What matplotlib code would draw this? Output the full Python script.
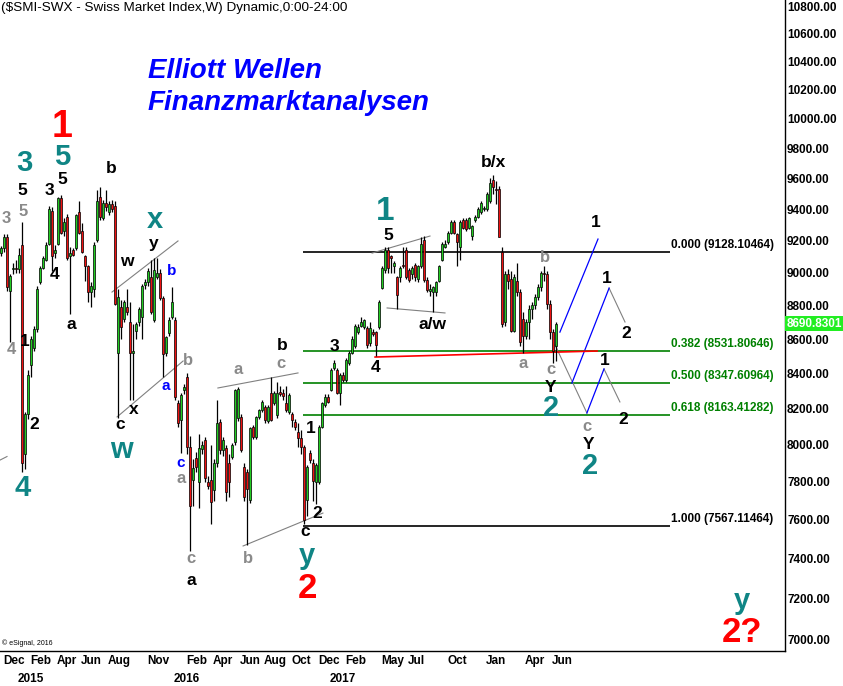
import numpy as np
import pandas as pd
import matplotlib
matplotlib.use('Agg')
import matplotlib.pyplot as plt
from matplotlib.ticker import NullLocator
import matplotlib.transforms as mtrans

plt.rcParams['font.family'] = ['Liberation Sans', 'DejaVu Sans']

# weekly SMI candles, Nov 2014 - Jun 2018
opens = [9120, 9150, 9220, 8890, 9020, 9030, 9020, 9170, 7950, 8170,
         8450, 8550, 8660, 8940, 9030, 9080, 9180, 9390, 9120, 9180,
         9470, 9260, 9350, 9100, 9140, 9150, 9380, 9260, 9100, 9040,
         8880, 8900, 9200, 9480, 9340, 9440, 9380, 9430, 9420, 8520,
         8790, 8720, 8790, 8700, 8520, 8650, 8700, 8730, 8925, 8940,
         8970, 8715, 8975, 8998, 8845, 8520, 8635, 8730, 8713, 8232,
         8137, 8305, 8380, 7990, 7810, 7930, 7800, 7975, 8026, 7800,
         7809, 7756, 7900, 8125, 7972, 7980, 7900, 7934, 8015, 8150,
         8153, 7880, 7850, 7704, 8098, 8043, 8153, 8193, 8210, 8130,
         8290, 8232, 8165, 8295, 8290, 8232, 8180, 8170, 8125, 8070,
         8037, 7990, 7704, 7955, 7900, 7800, 7800, 8098, 8221, 8266,
         8305, 8430, 8420, 8290, 8390, 8362, 8460, 8520, 8560, 8640,
         8680, 8670, 8665, 8575, 8640, 8640, 8670, 8906, 9016, 9140,
         9100, 9040, 8970, 8970, 9050, 9140, 9016, 8990, 9050, 8960,
         9040, 9200, 8955, 8890, 8880, 8880, 8950, 9080, 9160, 9190,
         9250, 9318, 9240, 9160, 9330, 9330, 9280, 9230, 9330, 9350,
         9380, 9400, 9400, 9450, 9590, 9530, 9530, 9130, 8700, 8990,
         8960, 8650, 8950, 8880, 8720, 8620, 8700, 8780, 8800, 8850,
         8910, 9000, 8990, 8810, 8640, 8560]
highs = [9165, 9240, 9240, 8990, 9060, 9080, 9150, 9320, 8180, 8420,
         8620, 8680, 8920, 9040, 9100, 9190, 9420, 9410, 9170, 9480,
         9490, 9340, 9370, 9160, 9150, 9370, 9450, 9310, 9110, 9050,
         8940, 9190, 9520, 9540, 9460, 9520, 9450, 9460, 9450, 8900,
         8830, 8830, 8900, 8820, 8690, 8700, 8790, 8930, 8960, 9030,
         9080, 9090, 9090, 9020, 8860, 8620, 8730, 8910, 8730, 8250,
         8290, 8340, 8400, 8050, 7920, 7960, 8060, 8020, 8040, 7830,
         8000, 7920, 8250, 8140, 8040, 8000, 7950, 8010, 8310, 8320,
         8170, 7900, 7870, 8100, 8110, 8160, 8200, 8250, 8220, 8220,
         8380, 8300, 8350, 8330, 8310, 8330, 8290, 8180, 8140, 8120,
         8080, 8000, 7890, 7970, 7920, 7900, 8110, 8240, 8280, 8280,
         8430, 8480, 8430, 8400, 8410, 8490, 8530, 8620, 8690, 8690,
         8730, 8720, 8680, 8700, 8660, 8650, 8830, 9040, 9160, 9160,
         9110, 9070, 8980, 9040, 9160, 9160, 9030, 9040, 9060, 9050,
         9220, 9230, 8970, 8930, 8920, 8950, 9050, 9190, 9200, 9260,
         9330, 9330, 9250, 9330, 9340, 9340, 9350, 9300, 9360, 9410,
         9450, 9420, 9510, 9600, 9620, 9580, 9550, 9160, 9010, 9020,
         9010, 8990, 9060, 8900, 8760, 8720, 8800, 8820, 8870, 8930,
         9010, 9040, 9010, 8830, 8660, 8700]
lows = [9100, 9130, 8890, 8580, 8990, 9000, 9000, 7850, 7870, 8140,
        8380, 8530, 8640, 8930, 9020, 9070, 9170, 9010, 9090, 9170,
        9240, 9230, 9080, 8750, 9100, 9140, 9240, 9120, 8950, 8820,
        8790, 8850, 9190, 9330, 9330, 9390, 9360, 9380, 8800, 8150,
        8600, 8700, 8740, 8250, 8250, 8600, 8680, 8600, 8900, 8920,
        8750, 8700, 8960, 8830, 8380, 8500, 8620, 8720, 8250, 8100,
        7955, 8280, 7950, 7440, 7670, 7850, 7660, 7950, 7800, 7760,
        7580, 7700, 7880, 7950, 7940, 7700, 7720, 7920, 8000, 8130,
        7960, 7700, 7470, 7690, 8030, 8030, 8140, 8180, 8120, 8120,
        8130, 8220, 8150, 8270, 8250, 8180, 8170, 8100, 8080, 7990,
        7950, 7580, 7620, 7900, 7700, 7680, 7790, 8090, 8210, 8230,
        8300, 8420, 8280, 8220, 8350, 8350, 8450, 8510, 8550, 8630,
        8670, 8660, 8550, 8560, 8620, 8500, 8660, 8900, 9000, 9000,
        9000, 9000, 8780, 8940, 9030, 8960, 8940, 8960, 8950, 8940,
        9030, 8940, 8880, 8860, 8760, 8860, 8940, 9070, 9150, 9180,
        9240, 9240, 9040, 9080, 9270, 9260, 9270, 9200, 9320, 9340,
        9370, 9390, 9390, 9440, 9500, 9430, 9220, 8670, 8680, 8900,
        8640, 8640, 8860, 8560, 8520, 8600, 8600, 8720, 8780, 8830,
        8890, 8950, 8780, 8600, 8460, 8470]
closes = [9150, 9220, 8910, 8980, 9030, 9020, 9110, 7900, 8170, 8390,
          8600, 8660, 8900, 9030, 9090, 9170, 9400, 9100, 9140, 9470,
          9250, 9320, 9090, 9120, 9110, 9360, 9250, 9130, 9040, 8880,
          8920, 9170, 9450, 9350, 9440, 9410, 9430, 9400, 8810, 8850,
          8670, 8820, 8760, 8520, 8530, 8690, 8780, 8920, 8945, 9010,
          8760, 9015, 9000, 8845, 8515, 8610, 8713, 8820, 8266, 8120,
          8277, 8323, 7990, 7670, 7875, 7880, 7980, 8000, 7820, 7780,
          7693, 7900, 8120, 7972, 8026, 7745, 7800, 8000, 8305, 8310,
          7972, 7720, 7760, 8090, 8043, 8153, 8193, 8238, 8137, 8210,
          8137, 8290, 8290, 8280, 8270, 8193, 8277, 8137, 8098, 8037,
          7990, 7600, 7880, 7917, 7803, 7890, 8098, 8230, 8266, 8240,
          8420, 8460, 8290, 8390, 8360, 8478, 8520, 8600, 8680, 8670,
          8700, 8713, 8565, 8665, 8630, 8565, 8820, 9030, 9140, 9030,
          9090, 9060, 8864, 9030, 9040, 8970, 8955, 9030, 8970, 9040,
          9180, 8955, 8894, 8900, 8910, 8940, 9040, 9180, 9180, 9250,
          9318, 9250, 9190, 9318, 9280, 9270, 9340, 9290, 9350, 9400,
          9440, 9405, 9500, 9570, 9540, 9520, 9225, 8690, 8990, 8950,
          8650, 8970, 8880, 8580, 8620, 8700, 8780, 8800, 8850, 8910,
          9000, 8990, 8810, 8640, 8530, 8690.8301]

first_week = '2014-11-24'
price_ticks = list(range(7000, 10801, 200))
month_labels = ['Dec', 'Feb', 'Apr', 'Jun', 'Aug', 'Nov', 'Feb', 'Apr', 'Jun',
                'Aug', 'Oct', 'Dec', 'Feb', 'May', 'Jul', 'Oct', 'Jan', 'Apr', 'Jun']
month_starts = ['2014-12', '2015-02', '2015-04', '2015-06', '2015-08', '2015-11',
                '2016-02', '2016-04', '2016-06', '2016-08', '2016-10', '2016-12',
                '2017-02', '2017-05', '2017-07', '2017-10', '2018-01', '2018-04',
                '2018-06']
year_labels = ['2015', '2016', '2017', '2018']

# retracement of the Nov 2016 low -> 2017 high swing
fib_high = 9128.10464
fib_low = 7567.11464
fib_anchor_week = '2016-10-31'
fib_ratios = [0.0, 0.382, 0.5, 0.618, 1.0]

# wave labels: (text, week index, price)
red_labels = [('1', 20.3, 9940), ('2', 102.3, 7253), ('2?', 247.0, 7038)]
teal_labels = [('3', 7.7, 9700), ('5', 20.3, 9740), ('x', 51.3, 9330), ('w', 40.3, 7972),
               ('4', 7.3, 7767), ('y', 102.0, 7414), ('2', 183.3, 8204),
               ('2', 196.3, 7885), ('y', 247.0, 7189)]
black_labels = [('5', 7.0, 9523), ('3', 16.0, 9517), ('5', 20.3, 9595), ('b', 36.7, 9667),
                ('y', 51.0, 9184), ('w', 42.0, 9071), ('4', 18.0, 8991), ('a', 23.3, 8689),
                ('1', 8.0, 8583), ('x', 44.3, 8193), ('c', 39.7, 8114), ('2', 11.0, 8114),
                ('b', 93.7, 8565), ('a', 63.3, 7293), ('c', 101.3, 7537), ('2', 105.3, 7635),
                ('1', 103.3, 8087), ('3', 111.0, 8559), ('4', 125.0, 8437), ('5', 129.0, 9234),
                ('a/w', 143.7, 8689), ('b/x', 164.3, 9707), ('Y', 183.3, 8317),
                ('1', 198.3, 9317), ('1', 202.0, 8961), ('2', 208.3, 8630),
                ('1', 201.3, 8472), ('2', 207.3, 8142), ('Y', 195.7, 8004)]
gray_labels = [('5', 7.3, 9387), ('3', 1.7, 9342), ('4', 3.3, 8541), ('b', 62.3, 8472),
               ('a', 60.0, 7815), ('a', 79.0, 8420), ('c', 93.3, 8460), ('c', 63.3, 7399),
               ('b', 82.3, 7399), ('b', 181.3, 9096), ('a', 174.0, 8460), ('c', 183.3, 8420),
               ('c', 195.3, 8098)]
blue_labels = [('b', 57.0, 9010), ('a', 55.0, 8328), ('c', 60.0, 7901)]

trend_lines = [[(-0.3, 7917), (2.0, 7936)], [(37.0, 8881), (59.0, 9197)],
               [(38.7, 8154), (60.7, 8472)], [(72.3, 8317), (99.0, 8403)],
               [(80.7, 7465), (107.3, 7635)], [(123.7, 9121), (143.0, 9228)],
               [(128.7, 8785), (148.0, 8755)]]
gray_paths = [[(184.7, 8565), (195.3, 8176)], [(202.7, 8905), (208.0, 8701)],
              [(201.0, 8426), (206.3, 8238)]]
blue_paths = [[(186.3, 8641), (199.0, 9209)], [(190.3, 8345), (202.7, 8905)],
              [(195.3, 8176), (201.0, 8426)]]
red_line = [(124.7, 8495), (198.7, 8530)]

TEAL = '#0f8585'
GRAY = '#8a8a8a'

o = np.array(opens, float)
h = np.array(highs, float)
l = np.array(lows, float)
c = np.array(closes, float)
x = np.arange(len(c))
weeks = pd.date_range(first_week, periods=len(c), freq='W-MON')

fig = plt.figure(figsize=(8.43, 6.86), dpi=100)
ax = fig.add_axes([0, 1 - 651 / 686, 785 / 843, 651 / 686])
ax.set_yscale('log')
ax.set_ylim(6947.5, 10845)
ax.set_xlim(-1 / 3, 784 / 3)

# candles
ax.vlines(x, l, h, color='black', lw=0.9, zorder=2)
up = c >= o
body_col = np.where(up, '#22cc22', '#ee1111')
body_h = np.maximum(np.abs(c - o), 4)
ax.bar(x, body_h, bottom=np.minimum(o, c), width=0.8, color=body_col,
       edgecolor='black', linewidth=0.5, zorder=3)

# fibonacci levels
fib_start = weeks.searchsorted(pd.Timestamp(fib_anchor_week)) - 0.3
fib_end = 223
for r in fib_ratios:
    lvl = fib_high - r * (fib_high - fib_low)
    col = 'black' if r in (0.0, 1.0) else '#008000'
    ax.hlines(lvl, fib_start, fib_end, color=col, lw=1.2, zorder=1)
    ax.annotate(f'{r:.3f} ({lvl:.5f})', (fib_end, lvl), xytext=(1, 5),
                textcoords='offset points', ha='left', va='center',
                color=col, fontsize=8.5, fontweight='bold')

for seg in trend_lines + gray_paths:
    xs, ys = zip(*seg)
    ax.plot(xs, ys, color='#808080', lw=0.8, zorder=1)
for seg in blue_paths:
    xs, ys = zip(*seg)
    ax.plot(xs, ys, color='#0000ff', lw=0.9, zorder=1)
xs, ys = zip(*red_line)
ax.plot(xs, ys, color='#ff0000', lw=1.2, zorder=1)

for group, col, size in [(red_labels, '#ff0000', 25), (teal_labels, TEAL, 21),
                         (black_labels, 'black', 12.5), (gray_labels, GRAY, 12),
                         (blue_labels, '#0000ff', 11)]:
    for txt, xi, yi in group:
        fs = size
        if group is red_labels and txt == '1':
            fs = 27
        ax.text(xi, yi, txt, color=col, fontsize=fs, fontweight='bold',
                ha='center', va='center', zorder=4)
ax.text(128.0, 9381, '1', color=TEAL, fontsize=24, fontweight='bold',
        ha='center', va='center', zorder=4)

# axes styling
for s in ['top', 'left']:
    ax.spines[s].set_visible(False)
for s in ['bottom', 'right']:
    ax.spines[s].set_linewidth(1.0)
    ax.spines[s].set_color('black')

ax.yaxis.tick_right()
ax.set_yticks(price_ticks)
ax.set_yticklabels([f'{v:.2f}' for v in price_ticks])
ax.yaxis.set_minor_locator(NullLocator())
ax.tick_params(axis='y', which='both', length=0, pad=1.5, labelsize=8.5)
for t in ax.get_yticklabels():
    t.set_fontweight('bold')

mpos = [weeks.searchsorted(pd.Timestamp(m)) - 0.3 for m in month_starts]
ypos = [weeks.searchsorted(pd.Timestamp(y + '-01')) - 0.3 for y in year_labels]
ax.set_xticks(mpos)
ax.set_xticklabels(month_labels)
ax.set_xticks(ypos, minor=True)
ax.set_xticklabels(year_labels, minor=True)
ax.tick_params(axis='x', which='major', length=0, pad=3, labelsize=8.5)
ax.tick_params(axis='x', which='minor', length=0, pad=15.5, labelsize=8.5)
for t in ax.get_xticklabels() + ax.get_xticklabels(minor=True):
    t.set_ha('left')
    t.set_fontweight('bold')

# last price marker
tr = mtrans.blended_transform_factory(ax.transAxes, ax.transData)
ax.text(1.002, c[-1], f'{c[-1]:.4f}', transform=tr, ha='left', va='center',
        color='white', fontsize=8.5, fontweight='bold', clip_on=False,
        bbox=dict(boxstyle='square,pad=0.12', fc='#22ee22', ec='none'))

fig.text(1 / 843, 1 - 8 / 686, '($SMI-SWX - Swiss Market Index,W) Dynamic,0:00-24:00',
         ha='left', va='center', fontsize=9.7)
fig.text(148 / 843, 1 - 71 / 686, 'Elliott Wellen', ha='left', va='center',
         color='#0000ff', fontsize=20, fontweight='bold', style='italic')
fig.text(148 / 843, 1 - 103 / 686, 'Finanzmarktanalysen', ha='left', va='center',
         color='#0000ff', fontsize=20, fontweight='bold', style='italic')
fig.text(2 / 843, 1 - 643 / 686, '\u00a9 eSignal, 2016', ha='left', va='center', fontsize=5)

fig.savefig('out.png', dpi=100)
